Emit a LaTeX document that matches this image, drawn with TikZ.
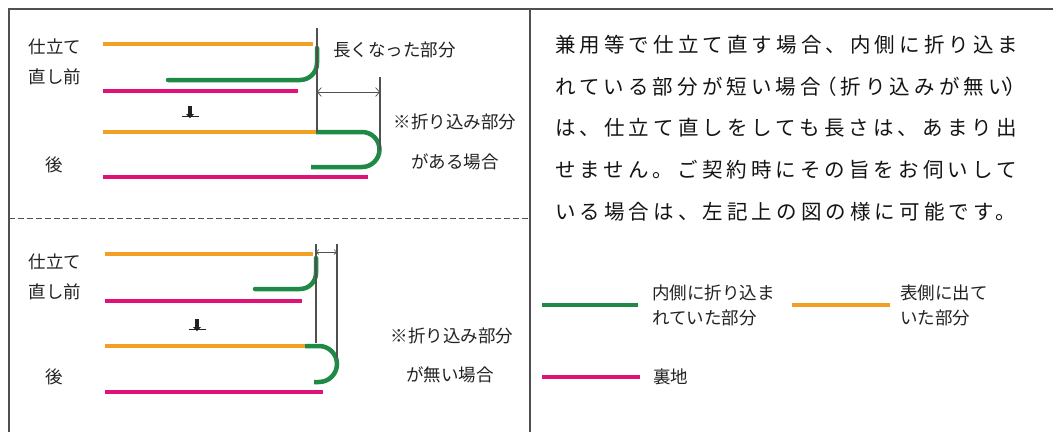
\documentclass[tikz,border=0pt]{standalone}
\usepackage{fontspec}
\newfontfamily\jp{Noto Sans CJK JP}
\newfontfamily\jpbody[LetterSpace=20]{Noto Sans CJK JP}
\usetikzlibrary{arrows.meta}
\definecolor{cOrange}{HTML}{F2A024}
\definecolor{cGreen}{HTML}{1F8A45}
\definecolor{cMag}{HTML}{E0127A}
\definecolor{cGray}{HTML}{505050}
\definecolor{cText}{HTML}{222222}
\definecolor{cBody}{HTML}{141414}
\begin{document}
\begin{tikzpicture}[x=1pt,y=-1pt,
  lbl/.style={font=\jp\fontsize{17.5}{25}\selectfont, text=cText, inner sep=0pt, align=left},
  bodytext/.style={font=\jpbody\fontsize{20.5}{24}\selectfont, text=cBody, inner sep=0pt, anchor=west},
  face/.style={cOrange, line width=4.5pt},
  fold/.style={cGreen, line width=4.5pt},
  lining/.style={cMag, line width=4.5pt},
  guide/.style={cGray, line width=1.5pt},
  dimarrow/.style={cGray, line width=0.7pt, {Straight Barb[length=4pt,width=9pt]}-{Straight Barb[length=4pt,width=9pt]}},
  dimsmall/.style={cGray, line width=0.6pt, {Straight Barb[length=2.5pt,width=5pt]}-{Straight Barb[length=2.5pt,width=5pt]}},
  frameline/.style={cGray, line width=2pt},
  downmark/.pic={
    \fill[cText] (-1.8,-7) rectangle (1.8,2);
    \fill[cText] (-4,1) -- (4,1) -- (0,5) -- cycle;
    \draw[cText, line width=0.9pt] (-8.5,3) -- (8.5,3);
  }
]
\useasboundingbox (0,0) rectangle (1053,432);
\fill[white] (0,0) rectangle (1053,432);

% frame
\draw[frameline] (9,432) -- (9,9) -- (1053,9);
\draw[frameline] (530,9) -- (530,432);
\draw[cGray, line width=1pt, dash pattern=on 6pt off 3pt] (9,218) -- (530,218);

% ---------- upper panel ----------
\node[lbl] (u1) at (55,47) {仕立て};
\node[lbl] (u2) at (55,77) {直し前};
\node[lbl] (u3) at (54,165) {後};
\node[lbl, anchor=west] (ulong) at (333,50) {長くなった部分};
\node[lbl] (unote1) at (455,122) {※折り込み部分};
\node[lbl] (unote2) at (455,162) {がある場合};

\draw[face] (103,44) -- (313,44);
\draw[fold, line cap=round] (168,80) -- (300,80) arc[start angle=90, end angle=0, radius=17] -- (317,48);
\draw[lining] (103,91) -- (298,91);
\pic at (190,113) {downmark};
\draw[face] (103,132) -- (317,132);
\draw[fold] (316,132) -- (362,132) arc[start angle=-90, end angle=90, radius=17.5] -- (311,167);
\draw[lining] (103,177) -- (368,177);

\coordinate (ua) at (317,92);
\coordinate (ub) at (380,92);
\draw[guide] (317,28) -- (317,132);
\draw[guide] (380,77) -- (380,150);
\draw[dimarrow] (ua) -- (ub);

% ---------- lower panel ----------
\node[lbl] (l1) at (55,262) {仕立て};
\node[lbl] (l2) at (55,292) {直し前};
\node[lbl] (l3) at (54,377) {後};
\node[lbl] (lnote1) at (452,336) {※折り込み部分};
\node[lbl] (lnote2) at (450,375) {が無い場合};

\draw[face] (105,254) -- (313,254);
\draw[fold, line cap=round] (255,289) -- (300,289) arc[start angle=90, end angle=0, radius=16] -- (316,258);
\draw[lining] (105,301) -- (302,301);
\pic at (197,326) {downmark};
\draw[face] (105,346) -- (306,346);
\draw[fold] (305,346) -- (319,346) arc[start angle=-90, end angle=90, radius=18] -- (314,382);
\draw[lining] (105,392) -- (323,392);

\coordinate (la) at (316,252);
\coordinate (lb) at (337,252);
\draw[guide] (316,244) -- (316,343);
\draw[guide] (337,244) -- (337,358);
\draw[dimsmall] (la) -- (lb);

% ---------- right panel ----------
\node[bodytext] (t1) at (555,45) {兼用等で仕立て直す場合、内側に折り込ま};
\node[bodytext] (t2) at (555,87) {れている部分が短い場合\kern-5pt（折り込みが無い\kern-3pt）};
\node[bodytext] (t3) at (555,128) {は、仕立て直しをしても長さは、あまり出};
\node[bodytext] (t4) at (555,170) {せません。ご契約時にその旨をお伺いして};
\node[bodytext] (t5) at (555,212) {いる場合は、左記上の図の様に可能です。};

% legend
\draw[fold] (542,305) -- (638,305);
\node[lbl, anchor=west] (kfold) at (652,305) {内側に折り込ま\\れていた部分};
\draw[face] (792,305) -- (890,305);
\node[lbl, anchor=west] (kface) at (900,305) {表側に出て\\いた部分};
\draw[lining] (542,377) -- (640,377);
\node[lbl, anchor=west] (klining) at (653,377) {裏地};
\end{tikzpicture}
\end{document}
